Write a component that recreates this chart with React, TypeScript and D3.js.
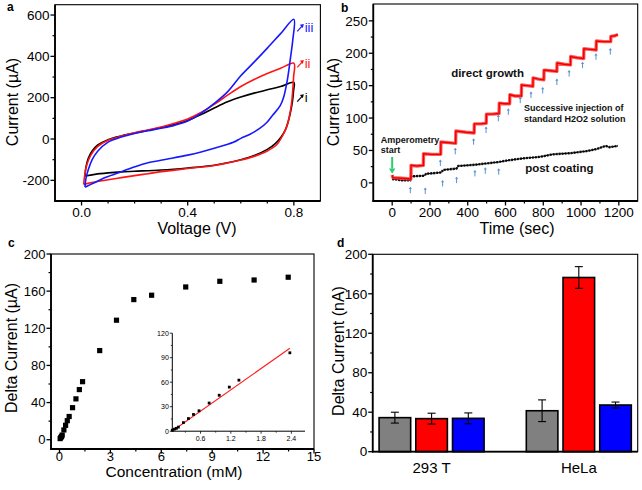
import React from "react";
import * as d3 from "d3";

const FONT = "'Liberation Sans', Arial, Helvetica, sans-serif";

// ---------------- Panel a : cyclic voltammograms [V, µA] ----------------
const cvCurveI: [number, number][] = [
  [0.013, -179], [0.016, -140], [0.025, -95], [0.04, -58], [0.06, -30], [0.1, -3], [0.15, 15], [0.2, 29],
  [0.25, 42], [0.3, 55], [0.35, 70], [0.4, 90], [0.45, 118], [0.5, 150], [0.55, 180], [0.6, 203],
  [0.65, 222], [0.7, 238], [0.75, 254], [0.8, 274],
  [0.799, 235], [0.795, 185], [0.789, 140], [0.78, 90], [0.768, 45], [0.752, 10], [0.73, -22], [0.7, -50],
  [0.65, -80], [0.6, -100], [0.55, -115], [0.5, -127], [0.4, -140], [0.3, -150], [0.2, -156], [0.15, -159],
  [0.1, -164], [0.05, -171], [0.013, -179],
];
const cvCurveII: [number, number][] = [
  [0.008, -220], [0.012, -175], [0.02, -125], [0.035, -78], [0.06, -37], [0.1, -6], [0.15, 14], [0.2, 30],
  [0.25, 44], [0.3, 58], [0.35, 76], [0.4, 97], [0.45, 128], [0.5, 168], [0.55, 212], [0.6, 254],
  [0.65, 288], [0.7, 317], [0.75, 342], [0.8, 367],
  [0.799, 300], [0.796, 240], [0.791, 170], [0.783, 110], [0.772, 55], [0.755, 10], [0.735, -28], [0.7, -58],
  [0.65, -84], [0.6, -102], [0.55, -116], [0.5, -128], [0.4, -143], [0.3, -158], [0.25, -168], [0.2, -177],
  [0.15, -187], [0.1, -197], [0.05, -208], [0.02, -216], [0.008, -220],
];
const cvCurveIII: [number, number][] = [
  [0.013, -233], [0.016, -195], [0.025, -150], [0.04, -100], [0.06, -60], [0.1, -15], [0.15, 10], [0.2, 27],
  [0.25, 40], [0.3, 52], [0.35, 66], [0.4, 87], [0.45, 124], [0.5, 172], [0.55, 228], [0.6, 306],
  [0.65, 372], [0.7, 440], [0.75, 510], [0.8, 579],
  [0.796, 480], [0.788, 400], [0.776, 290], [0.762, 205], [0.748, 160], [0.72, 115], [0.698, 80], [0.67, 50],
  [0.635, 23], [0.6, 3], [0.572, -16], [0.5, -45], [0.447, -64], [0.4, -78], [0.32, -98], [0.25, -115],
  [0.195, -137], [0.15, -158], [0.094, -184], [0.06, -204], [0.031, -222], [0.013, -233],
];
const cvCurveNames = ["i", "ii", "iii"];
const cvLabelCurrent = [200, 366, 540];
const cvLabelVoltage = 0.824;
const cvXLabeled = [0, 0.4, 0.8];
const cvXMinor = [0.1, 0.2, 0.3, 0.5, 0.6, 0.7];
const cvYLabeled = [-200, 0, 200, 400, 600];
const cvYMinor = [-100, 100, 300, 500];

// ---------------- Panel b : amperometry [sec, µA] ----------------
const directGrowth: [number, number][] = [
  [0, 12], [4, 8], [50, 7], [99, 6],
  [100, 27], [130, 26], [165, 27],
  [166, 45], [210, 44], [257, 44],
  [258, 63], [300, 62], [336, 61],
  [337, 80], [390, 78], [434, 77],
  [435, 91], [470, 91], [498, 92],
  [499, 106], [530, 106], [566, 107],
  [567, 123], [595, 122], [622, 122],
  [623, 136], [650, 134], [684, 134],
  [685, 151], [715, 150], [745, 149],
  [746, 162], [775, 160], [803, 159],
  [804, 174], [840, 173], [872, 172],
  [873, 185], [910, 183], [944, 182],
  [945, 195], [980, 193], [1014, 192],
  [1015, 207], [1050, 206], [1080, 205],
  [1081, 219], [1120, 218], [1157, 218],
  [1158, 226], [1180, 227], [1195, 229],
];
const postCoating: [number, number][] = [
  [0, 6], [50, 4], [95, 4], [100, 10], [170, 11], [180, 14], [260, 16], [270, 20], [340, 22], [350, 26],
  [440, 28], [500, 30], [560, 32], [620, 35], [700, 38], [780, 40], [850, 44], [950, 46], [1030, 49],
  [1080, 52], [1130, 57], [1150, 55], [1195, 57],
];
const injectionTimes = [96, 175, 255, 267, 334, 341, 431, 438, 497, 493, 562, 564, 615, 678, 735, 797, 872, 937, 1008, 1079, 1155];
const injectionTipCurrent = [-6, -7, 36, 4.5, 54, 9.6, 69, 20, 87, 24, 105, 22.5, 115, 133, 141, 148, 161, 174, 187, 200, 208];
const ampXLabeled = [0, 200, 400, 600, 800, 1000, 1200];
const ampXMinor = [100, 300, 500, 700, 900, 1100];
const ampYLabeled = [0, 50, 100, 150, 200, 250];
const ampYMinor = [25, 75, 125, 175, 225];

// ---------------- Panel c : calibration [mM, µA] ----------------
const concentration = [0.04, 0.08, 0.12, 0.16, 0.26, 0.36, 0.46, 0.57, 0.77, 0.97, 1.17, 1.36, 2.37, 3.36, 4.38, 5.43, 7.44, 9.45, 11.47, 13.48];
const deltaCurrent = [1.2, 2.5, 3.5, 5, 10.5, 15.5, 20.5, 25, 34.5, 44, 54, 62.5, 96, 128.7, 150.9, 155.6, 164.5, 170.6, 172, 175];
const insetMaxConc = 2.4;
const fitSlope = 43.5;
const fitIntercept = -1.5;
const fitRange = [0.04, 2.37];
const calXLabeled = [0, 3, 6, 9, 12, 15];
const calXMinor = [1.5, 4.5, 7.5, 10.5, 13.5];
const calYLabeled = [0, 40, 80, 120, 160, 200];
const calYMinor = [20, 60, 100, 140, 180];
const insetXLabeled = [0.6, 1.2, 1.8, 2.4];
const insetXMinor = [0.3, 0.9, 1.5, 2.1];
const insetYLabeled = [0, 30, 60, 90, 120];
const insetYMinor = [15, 45, 75, 105];

// ---------------- Panel d : cells [nA] ----------------
const cellLines = ["293 T", "HeLa"];
const barSeries = ["s1", "s2", "s3"];
const barMeans = [
  [34.5, 33.5, 33.8],
  [41.5, 176.5, 47.3],
];
const barErrors = [
  [5.5, 5.5, 5.5],
  [11, 11, 3],
];
const barColors = ["#808080", "#ff0000", "#0000ff"];
const cellYLabeled = [0, 40, 80, 120, 160, 200];
const cellYMinor = [20, 60, 100, 140, 180];

type Lin = d3.ScaleLinear<number, number>;

function Frame(props: {
  x: Lin; y: Lin; xl?: number[]; xm?: number[]; yl: number[]; ym: number[];
  xf?: (v: number) => string; yf?: (v: number) => string; fs?: number; xdy?: number;
}) {
  const { x, y, xl = [], xm = [], yl, ym, xf = String, yf = String, fs = 13.5, xdy = 16 } = props;
  const [l, r] = x.range();
  const [b, t] = y.range();
  const M = 4.5, m = 2.5;
  return (
    <g fontFamily={FONT} fontSize={fs} fill="#000">
      <rect x={l} y={t} width={r - l} height={b - t} fill="none" stroke="#000" strokeWidth={1.1} />
      <line x1={l} x2={l} y1={t} y2={b + 0.8} stroke="#000" strokeWidth={1.8} />
      <line x1={l - 0.8} x2={r} y1={b} y2={b} stroke="#000" strokeWidth={1.8} />
      {xl.map((v) => (
        <g key={"xl" + v}>
          <line x1={x(v)} x2={x(v)} y1={b} y2={b + M} stroke="#000" strokeWidth={1.3} />
          <text x={x(v)} y={b + xdy} textAnchor="middle">{xf(v)}</text>
        </g>
      ))}
      {xm.map((v) => (
        <line key={"xm" + v} x1={x(v)} x2={x(v)} y1={b} y2={b + m} stroke="#000" strokeWidth={1.2} />
      ))}
      {yl.map((v) => (
        <g key={"yl" + v}>
          <line x1={l - M} x2={l} y1={y(v)} y2={y(v)} stroke="#000" strokeWidth={1.3} />
          <text x={l - M - 1} y={y(v)} dy="0.35em" textAnchor="end">{yf(v)}</text>
        </g>
      ))}
      {ym.map((v) => (
        <line key={"ym" + v} x1={l - m} x2={l} y1={y(v)} y2={y(v)} stroke="#000" strokeWidth={1.2} />
      ))}
    </g>
  );
}

function UpArrow({ x, y, len, color, head = 2.2, w = 1 }: { x: number; y: number; len: number; color: string; head?: number; w?: number }) {
  return (
    <g>
      <line x1={x} x2={x} y1={y + 1} y2={y + len} stroke={color} strokeWidth={w} />
      <path d={`M${x - head},${y + head * 1.4} L${x},${y} L${x + head},${y + head * 1.4} Z`} fill={color} />
    </g>
  );
}

export default function App() {
  // ---------- panel a ----------
  const ax = d3.scaleLinear().domain([-0.1, 0.9]).range([55, 320.4]);
  const ay = d3.scaleLinear().domain([-300, 650]).range([201, 4.7]);
  const cvLine = d3
    .line<[number, number]>()
    .x((d) => ax(d[0]))
    .y((d) => ay(d[1]))
    .curve(d3.curveCatmullRom.alpha(0.5));
  const cvData = [cvCurveI, cvCurveII, cvCurveIII];
  const cvColors = ["#000000", "#ff1414", "#1818ff"];

  // ---------- panel b ----------
  const bx = d3.scaleLinear().domain([-100, 1300]).range([373.3, 637.7]);
  const by = d3.scaleLinear().domain([-28, 276]).range([201, 4]);
  const ampLine = d3.line<[number, number]>().x((d) => bx(d[0])).y((d) => by(d[1]));

  // ---------- panel c ----------
  const cx = d3.scaleLinear().domain([-0.5, 15]).range([51, 314]);
  const cy = d3.scaleLinear().domain([-10, 200]).range([449, 254]);
  const ix = d3.scaleLinear().domain([0.04, 2.67]).range([172.3, 305]);
  const iy = d3.scaleLinear().domain([0, 120]).range([431.2, 333.2]);
  const calPts = concentration.map((c, i) => [c, deltaCurrent[i]] as [number, number]);
  const insetPts = calPts.filter((p) => p[0] <= insetMaxConc);

  // ---------- panel d ----------
  const dx = d3.scalePoint<string>().domain(cellLines).range([372.7, 637.7]).padding(0.4);
  const dy = d3.scaleLinear().domain([0, 200]).range([451.7, 254.3]);
  const inner = d3.scaleBand<string>().domain(barSeries).range([-52.5, 52.5]).paddingInner(0.14);

  return (
    <svg
      width={642}
      height={490}
      viewBox="0 0 642 490"
      style={{ position: "absolute", left: 0, top: 0, background: "#fff" }}
      fontFamily={FONT}
    >
      <rect x={0} y={0} width={642} height={490} fill="#fff" />
      {/* panel letters */}
      <g fontWeight="bold" fontSize={12} fontFamily={FONT}>
        <text x={7} y={11}>a</text>
        <text x={341} y={12}>b</text>
        <text x={8} y={247}>c</text>
        <text x={337} y={247}>d</text>
      </g>

      {/* ================= panel a ================= */}
      <Frame x={ax} y={ay} xl={cvXLabeled} xm={cvXMinor} yl={cvYLabeled} ym={cvYMinor} xf={d3.format(".1f")} />
      {cvData.map((d, i) => (
        <path key={i} d={cvLine(d) || ""} fill="none" stroke={cvColors[i]} strokeWidth={1.6} />
      ))}
      {cvCurveNames.map((n, i) => {
        const px = ax(cvLabelVoltage);
        const py = ay(cvLabelCurrent[i]);
        return (
          <g key={n}>
            <line x1={px - 3} y1={py + 4} x2={px + 2.5} y2={py - 2} stroke={cvColors[i]} strokeWidth={1.2} />
            <path d={`M${px + 3.6},${py - 3.4} L${px - 0.4},${py - 2.6} L${px + 2.6},${py + 0.6} Z`} fill={cvColors[i]} />
            <text x={px + 4.5} y={py + 4.5} fontSize={13} fill={cvColors[i]}>{n}</text>
          </g>
        );
      })}
      <text x={197} y={234} fontSize={16} textAnchor="middle">Voltage (V)</text>
      <text transform="translate(17.5,102) rotate(-90)" fontSize={16} textAnchor="middle">Current (µA)</text>

      {/* ================= panel b ================= */}
      <Frame x={bx} y={by} xl={ampXLabeled} xm={ampXMinor} yl={ampYLabeled} ym={ampYMinor} />
      <path d={ampLine(postCoating) || ""} fill="none" stroke="#1a1a1a" strokeWidth={2.4} strokeDasharray="2 1" />
      <path d={ampLine(postCoating) || ""} fill="none" stroke="#000" strokeWidth={1} />
      <path d={ampLine(directGrowth) || ""} fill="none" stroke="#ff4040" strokeWidth={3.4} strokeLinejoin="round" opacity={0.85} />
      <path d={ampLine(directGrowth) || ""} fill="none" stroke="#ee0000" strokeWidth={1.4} />
      {injectionTimes.map((t, i) => (
        <UpArrow key={i} x={bx(t)} y={by(injectionTipCurrent[i])} len={6.5} color="#5b8fd6" head={1.6} w={1} />
      ))}
      <line x1={bx(0)} x2={bx(0)} y1={by(40)} y2={by(22)} stroke="#2ecc71" strokeWidth={2} />
      <path d={`M${bx(0) - 3.2},${by(22)} L${bx(0)},${by(14)} L${bx(0) + 3.2},${by(22)} Z`} fill="#2ecc71" />
      <g fontFamily={FONT} fontWeight="bold" fill="#111">
        <text x={bx(505)} y={by(163)} fontSize={11.5} textAnchor="middle">direct growth</text>
        <text x={bx(698)} y={by(111)} fontSize={9}>Successive injection of</text>
        <text x={bx(698)} y={by(94)} fontSize={9}>standard H2O2 solution</text>
        <text x={bx(704)} y={by(17)} fontSize={11.5}>post coating</text>
        <text x={bx(-60)} y={by(61.5)} fontSize={9}>Amperometry</text>
        <text x={bx(-60)} y={by(46)} fontSize={9}>start</text>
      </g>
      <text x={517} y={234} fontSize={16} textAnchor="middle">Time (sec)</text>
      <text transform="translate(339,102) rotate(-90)" fontSize={16} textAnchor="middle">Current (µA)</text>

      {/* ================= panel c ================= */}
      <Frame x={cx} y={cy} xl={calXLabeled} xm={calXMinor} yl={calYLabeled} ym={calYMinor} xdy={11.5} fs={13} />
      {calPts.map((p, i) => (
        <rect key={i} x={cx(p[0]) - 2.6} y={cy(p[1]) - 2.6} width={5.2} height={5.2} fill="#000" />
      ))}
      {/* inset */}
      <g fontFamily={FONT} fontSize={7}>
        <line x1={ix.range()[0]} x2={ix.range()[0]} y1={iy(0) + 0.5} y2={iy(120)} stroke="#000" strokeWidth={1} />
        <line x1={ix.range()[0]} x2={ix.range()[1]} y1={iy(0)} y2={iy(0)} stroke="#000" strokeWidth={1} />
        {insetYLabeled.map((v) => (
          <g key={v}>
            <line x1={ix.range()[0] - 2.5} x2={ix.range()[0]} y1={iy(v)} y2={iy(v)} stroke="#000" strokeWidth={0.8} />
            <text x={ix.range()[0] - 3.5} y={iy(v)} dy="0.35em" textAnchor="end">{v}</text>
          </g>
        ))}
        {insetYMinor.map((v) => (
          <line key={v} x1={ix.range()[0] - 1.5} x2={ix.range()[0]} y1={iy(v)} y2={iy(v)} stroke="#000" strokeWidth={0.7} />
        ))}
        {insetXLabeled.map((v) => (
          <g key={v}>
            <line x1={ix(v)} x2={ix(v)} y1={iy(0)} y2={iy(0) + 2.5} stroke="#000" strokeWidth={0.8} />
            <text x={ix(v)} y={iy(0) + 9.5} textAnchor="middle">{v.toFixed(1)}</text>
          </g>
        ))}
        {insetXMinor.map((v) => (
          <line key={v} x1={ix(v)} x2={ix(v)} y1={iy(0)} y2={iy(0) + 1.5} stroke="#000" strokeWidth={0.7} />
        ))}
        <line
          x1={ix(fitRange[0])}
          y1={iy(fitSlope * fitRange[0] + fitIntercept)}
          x2={ix(fitRange[1])}
          y2={iy(fitSlope * fitRange[1] + fitIntercept)}
          stroke="#ff1a1a"
          strokeWidth={1.1}
        />
        {insetPts.map((p, i) => (
          <rect key={i} x={ix(p[0]) - 1.4} y={iy(p[1]) - 1.4} width={2.8} height={2.8} fill="#000" />
        ))}
      </g>
      <text x={174} y={477} fontSize={15.5} textAnchor="middle">Concentration (mM)</text>
      <text transform="translate(17,348) rotate(-90)" fontSize={16} textAnchor="middle">Delta Current (µA)</text>

      {/* ================= panel d ================= */}
      {cellLines.map((c, gi) => (
        <g key={c}>
          {barSeries.map((s, si) => {
            const x0 = (dx(c) as number) + (inner(s) as number);
            const w = inner.bandwidth();
            const v = barMeans[gi][si];
            const e = barErrors[gi][si];
            const xc = x0 + w / 2;
            return (
              <g key={s}>
                <rect x={x0} y={dy(v)} width={w} height={dy(0) - dy(v)} fill={barColors[si]} stroke="#000" strokeWidth={1.6} />
                <line x1={xc} x2={xc} y1={dy(v + e)} y2={dy(v - e)} stroke="#000" strokeWidth={1.1} />
                <line x1={xc - 4} x2={xc + 4} y1={dy(v + e)} y2={dy(v + e)} stroke="#000" strokeWidth={1.1} />
                <line x1={xc - 4} x2={xc + 4} y1={dy(v - e)} y2={dy(v - e)} stroke="#000" strokeWidth={1.1} />
              </g>
            );
          })}
          <text x={dx(c) as number} y={473} fontSize={15} textAnchor="middle" fontFamily={FONT}>{c}</text>
        </g>
      ))}
      <Frame x={d3.scaleLinear().domain([0, 1]).range([372.7, 637.7])} y={dy} yl={cellYLabeled} ym={cellYMinor} />
      <text transform="translate(344,351) rotate(-90)" fontSize={16} textAnchor="middle">Delta Current (nA)</text>
    </svg>
  );
}
